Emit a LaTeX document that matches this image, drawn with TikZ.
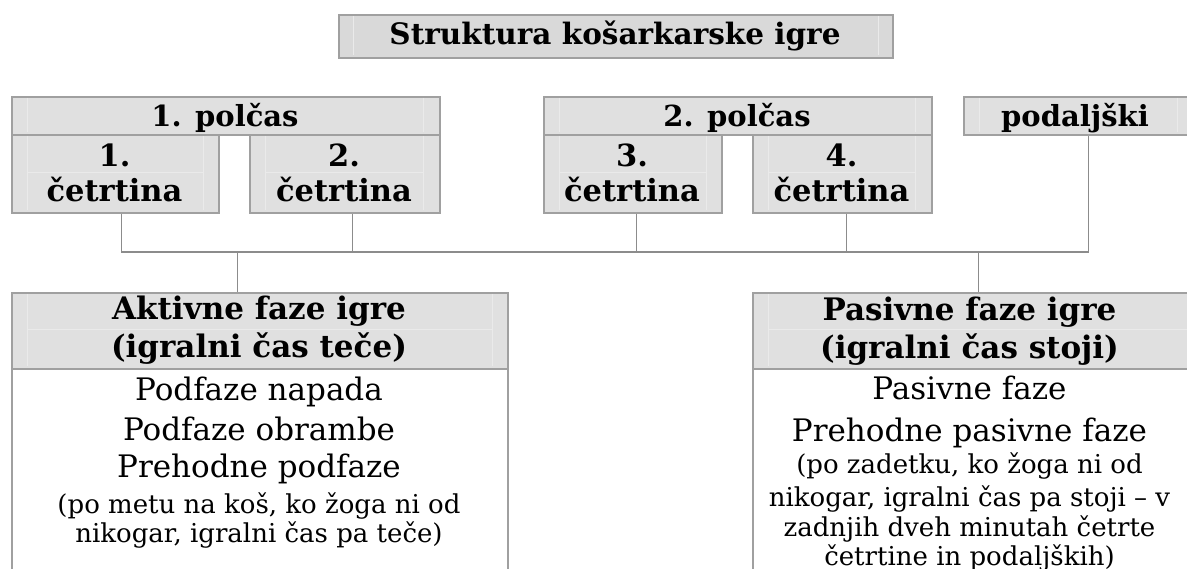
\documentclass[tikz,border=0pt]{standalone}
\usepackage{fontspec}
\setmainfont{DejaVu Serif}
\usetikzlibrary{calc}
\definecolor{boxfill}{HTML}{E0E0E0}
\definecolor{titlefill}{HTML}{D9D9D9}
\definecolor{boxline}{HTML}{A0A0A0}
\definecolor{innerline}{HTML}{EAEAEA}
\definecolor{connline}{HTML}{8C8C8C}
\newcommand\fsz[1]{\fontsize{#1pt}{#1pt}\selectfont}
\begin{document}
\begin{tikzpicture}[x=1pt,y=-1pt,
  box/.style={draw=boxline, fill=boxfill, line width=1.6pt, inner sep=0pt, anchor=north west},
  whitebox/.style={draw=boxline, fill=white, line width=1.6pt, inner sep=0pt, anchor=north west},
  conn/.style={draw=connline, line width=1.3pt},
  inner/.style={draw=innerline, line width=1pt},
  bold/.style={anchor=base, inner sep=0pt, font=\bfseries\fsz{29}},
  quart/.style={anchor=base, inner sep=0pt, font=\bfseries\fsz{30.5}},
  head/.style={anchor=base, inner sep=0pt, font=\bfseries\fsz{31}},
  big/.style={anchor=base, inner sep=0pt, font=\fsz{31}},
  small/.style={anchor=base, inner sep=0pt, font=\fsz{26}}]
\useasboundingbox (0,0) rectangle (1187,569);
\clip (0,0) rectangle (1187,569);

% title
\node[box, fill=titlefill, minimum width=554pt, minimum height=43pt] (title) at (338,14) {};
\draw[inner] (353,16) -- (353,55) (878,16) -- (878,55);
\node[bold, font=\bfseries\fsz{29.5}] (titletxt) at (615,45) {Struktura košarkarske igre};

% first half
\node[box, minimum width=428pt, minimum height=38pt] (p1) at (11,96) {};
\node[box, minimum width=207pt, minimum height=78pt] (c1) at (11,134) {};
\node[box, minimum width=190pt, minimum height=78pt] (c2) at (249,134) {};
% second half
\node[box, minimum width=388pt, minimum height=38pt] (p2) at (543,96) {};
\node[box, minimum width=178pt, minimum height=78pt] (c3) at (543,134) {};
\node[box, minimum width=179pt, minimum height=78pt] (c4) at (752,134) {};
% overtime
\node[box, minimum width=240pt, minimum height=38pt] (pod) at (963,96) {};

% faint inner cell lines
\draw[inner] (27,98) -- (27,132) (423,98) -- (423,132)
  (27,136) -- (27,210) (203,136) -- (203,210) (27,173) -- (203,173)
  (265,136) -- (265,210) (423,136) -- (423,210) (265,173) -- (423,173)
  (559,98) -- (559,132) (915,98) -- (915,132)
  (559,136) -- (559,210) (706,136) -- (706,210) (559,173) -- (706,173)
  (768,136) -- (768,210) (915,136) -- (915,210) (768,173) -- (915,173)
  (979,98) -- (979,132) (1177,98) -- (1177,132);

\node[bold] (p1t) at (225,127) {1. polčas};
\node[bold] (p2t) at (737,127) {2. polčas};
\node[bold] (podt) at (1075,127) {podaljški};
\node[quart] (c1a) at (114.5,167) {1.};
\node[quart] (c1b) at (114.5,202) {četrtina};
\node[quart] (c2a) at (344,167) {2.};
\node[quart] (c2b) at (344,202) {četrtina};
\node[quart] (c3a) at (632,167) {3.};
\node[quart] (c3b) at (632,202) {četrtina};
\node[quart] (c4a) at (841.5,167) {4.};
\node[quart] (c4b) at (841.5,202) {četrtina};

% phase boxes
\node[whitebox, minimum width=496pt, minimum height=240pt] (aktbody) at (11,368) {};
\node[box, minimum width=496pt, minimum height=76pt] (akt) at (11,292) {};
\draw[inner] (27,294) -- (27,366) (492,294) -- (492,366) (27,330) -- (492,330);
\node[whitebox, minimum width=460pt, minimum height=240pt] (pasbody) at (752,368) {};
\node[box, minimum width=460pt, minimum height=76pt] (pas) at (752,292) {};
\draw[inner] (768,294) -- (768,366) (768,330) -- (1187,330);

\node[head] (akt1) at (259,320) {Aktivne faze igre};
\node[head] (akt2) at (259,358) {(igralni čas teče)};
\node[big] (akt3) at (259,401) {Podfaze napada};
\node[big] (akt4) at (259,440) {Podfaze obrambe};
\node[big] (akt5) at (259,478) {Prehodne podfaze};
\node[small] (akt6) at (259,513) {(po metu na koš, ko žoga ni od};
\node[small] (akt7) at (259,542) {nikogar, igralni čas pa teče)};

\node[head] (pas1) at (969.5,321) {Pasivne faze igre};
\node[head] (pas2) at (969.5,359) {(igralni čas stoji)};
\node[big] (pas3) at (969.5,400) {Pasivne faze};
\node[big] (pas4) at (969.5,442) {Prehodne pasivne faze};
\node[small] (pas5) at (969.5,473) {(po zadetku, ko žoga ni od};
\node[small] (pas6) at (969.5,506) {nikogar, igralni čas pa stoji – v};
\node[small] (pas7) at (969.5,536) {zadnjih dveh minutah četrte};
\node[small] (pas8) at (969.5,565) {četrtine in podaljških)};

% connectors
\coordinate (bus) at (0,252);
\coordinate (c1j) at ([xshift=6.5pt]c1.south);
\coordinate (c2j) at ([xshift=8pt]c2.south);
\coordinate (c3j) at ([xshift=4pt]c3.south);
\coordinate (c4j) at ([xshift=4.5pt]c4.south);
\coordinate (podj) at ([xshift=5pt]pod.south);
\coordinate (aktj) at ([xshift=-22pt]akt.north);
\coordinate (pasj) at ([xshift=-4.5pt]pas.north);
\draw[conn] (c1j) -- (c1j |- bus) -- (podj |- bus) -- (podj);
\draw[conn] (c2j) -- (c2j |- bus);
\draw[conn] (c3j) -- (c3j |- bus);
\draw[conn] (c4j) -- (c4j |- bus);
\draw[conn] (aktj |- bus) -- (aktj);
\draw[conn] (pasj |- bus) -- (pasj);
\end{tikzpicture}
\end{document}
